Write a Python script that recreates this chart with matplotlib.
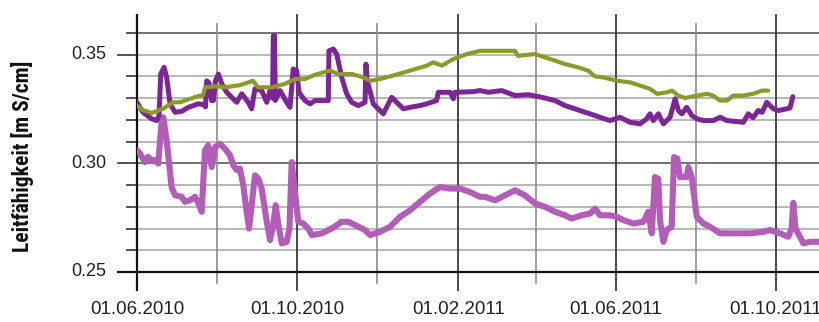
import matplotlib
matplotlib.use("Agg")
import matplotlib.pyplot as plt
import matplotlib.dates as mdates
from matplotlib import font_manager
import pandas as pd
import numpy as np

# ---- data: days since 01.06.2010 and conductivity [mS/cm] ----
start = "2010-06-01"

olive_days = [0.0, 4.6, 11.4, 19.8, 27.4, 32.8, 40.4, 48.0, 50.3, 51.8, 61.0, 67.1, 78.5, 88.4,
              92.2, 102.9, 112.8, 120.4, 128.0, 135.7, 147.1, 153.2, 163.9, 173.8, 177.6, 185.2,
              195.1, 208.1, 221.0, 225.6, 232.5, 240.9, 251.5, 261.4, 288.1, 290.4, 303.4, 311.0,
              318.6, 326.2, 336.1, 343.8, 349.1, 355.2, 365.9, 375.8, 383.4, 391.0, 396.3, 404.0,
              407.8, 412.4, 417.7, 426.8, 434.5, 439.0, 444.4, 449.7, 454.3, 461.9, 469.5, 476.4,
              481.0]
olive_vals = [0.3266, 0.3245, 0.3232, 0.3251, 0.3281, 0.3281, 0.3297, 0.3312, 0.3312, 0.3350,
              0.3355, 0.3350, 0.3360, 0.3380, 0.3350, 0.3350, 0.3366, 0.3388, 0.3388, 0.3408,
              0.3427, 0.3411, 0.3411, 0.3393, 0.3380, 0.3388, 0.3404, 0.3427, 0.3450, 0.3465,
              0.3450, 0.3480, 0.3503, 0.3518, 0.3518, 0.3495, 0.3503, 0.3488, 0.3473, 0.3457,
              0.3442, 0.3427, 0.3400, 0.3396, 0.3380, 0.3373, 0.3358, 0.3343, 0.3320, 0.3327,
              0.3335, 0.3312, 0.3301, 0.3312, 0.3320, 0.3312, 0.3289, 0.3289, 0.3312, 0.3312,
              0.3320, 0.3335, 0.3335]

dark_days = [0.0, 4.6, 11.2, 15.0, 16.8, 18.1, 20.6, 22.6, 25.2, 29.0, 34.3, 39.1, 46.7, 51.1,
             52.2, 53.1, 54.9, 56.8, 58.2, 59.8, 62.0, 64.6, 68.4, 76.0, 79.8, 84.8, 87.4, 89.9,
             92.5, 95.0, 98.9, 101.4, 103.3, 103.9, 104.8, 105.4, 109.0, 114.1, 116.6, 119.1,
             121.7, 123.5, 128.0, 131.9, 135.7, 145.8, 146.3, 149.6, 152.2, 156.0, 159.8, 163.6,
             168.7, 173.8, 174.5, 175.5, 180.1, 187.7, 194.1, 197.9, 203.0, 208.1, 215.7, 220.8,
             228.4, 229.6, 238.6, 241.1, 242.4, 256.3, 261.4, 267.8, 278.0, 288.1, 298.2, 308.5,
             318.6, 326.2, 333.8, 341.5, 345.3, 352.9, 360.5, 368.1, 375.8, 383.4, 388.5, 391.0,
             393.5, 397.4, 401.2, 406.3, 410.1, 412.7, 415.3, 419.0, 422.9, 426.7, 431.7, 439.1,
             444.4, 449.7, 462.1, 465.9, 469.5, 473.5, 476.4, 480.0, 485.0, 488.8, 495.2, 497.7,
             499.8]
dark_vals = [0.3280, 0.3235, 0.3205, 0.3197, 0.3220, 0.3411, 0.3442, 0.3396, 0.3274, 0.3235,
             0.3240, 0.3258, 0.3274, 0.3270, 0.3260, 0.3380, 0.3370, 0.3289, 0.3289, 0.3380,
             0.3411, 0.3366, 0.3327, 0.3281, 0.3320, 0.3281, 0.3251, 0.3343, 0.3340, 0.3335,
             0.3281, 0.3335, 0.3300, 0.3587, 0.3590, 0.3290, 0.3335, 0.3281, 0.3258, 0.3434,
             0.3427, 0.3327, 0.3289, 0.3274, 0.3289, 0.3289, 0.3518, 0.3526, 0.3503, 0.3396,
             0.3320, 0.3281, 0.3266, 0.3281, 0.3457, 0.3380, 0.3274, 0.3228, 0.3304, 0.3281,
             0.3251, 0.3258, 0.3266, 0.3274, 0.3289, 0.3327, 0.3327, 0.3297, 0.3327, 0.3330,
             0.3335, 0.3327, 0.3335, 0.3312, 0.3316, 0.3304, 0.3289, 0.3266, 0.3251, 0.3235,
             0.3228, 0.3212, 0.3197, 0.3212, 0.3189, 0.3182, 0.3205, 0.3228, 0.3197, 0.3228,
             0.3182, 0.3212, 0.3297, 0.3243, 0.3228, 0.3258, 0.3220, 0.3205, 0.3197, 0.3197,
             0.3212, 0.3197, 0.3189, 0.3228, 0.3210, 0.3243, 0.3235, 0.3281, 0.3251, 0.3243,
             0.3251, 0.3255, 0.3307]

light_days = [0.0, 2.3, 6.1, 8.4, 11.4, 13.7, 16.2, 18.8, 20.0, 22.6, 26.4, 29.0, 34.1, 36.6,
              40.4, 44.2, 46.5, 49.3, 51.8, 54.3, 56.9, 59.5, 63.3, 67.1, 70.9, 73.4, 76.0, 78.5,
              81.0, 83.6, 85.4, 87.4, 89.9, 92.5, 95.0, 98.9, 101.4, 103.9, 105.7, 107.7, 110.3,
              114.1, 116.2, 117.9, 120.4, 122.9, 126.8, 130.6, 133.2, 140.8, 148.4, 156.0, 161.1,
              166.2, 173.8, 177.6, 185.2, 192.8, 200.5, 208.1, 215.7, 223.3, 230.9, 238.6, 246.2,
              253.8, 261.4, 265.2, 272.9, 280.5, 288.1, 295.7, 303.4, 311.0, 318.6, 326.2, 331.3,
              338.9, 345.3, 349.1, 352.9, 360.5, 365.6, 370.6, 378.3, 385.9, 389.7, 392.3, 394.8,
              397.3, 398.6, 401.2, 403.7, 407.5, 409.3, 411.8, 413.9, 419.0, 420.2, 422.8, 426.6,
              431.7, 436.8, 444.4, 454.6, 467.3, 477.4, 482.5, 490.1, 496.4, 498.9, 500.2, 501.9,
              507.9, 513.0, 519.8]
light_vals = [0.3060, 0.3045, 0.3006, 0.3030, 0.3010, 0.3015, 0.2999, 0.3197, 0.3212, 0.3106,
              0.2891, 0.2853, 0.2846, 0.2823, 0.2830, 0.2846, 0.2820, 0.2777, 0.3060, 0.3083,
              0.2983, 0.3075, 0.3090, 0.3067, 0.3037, 0.2991, 0.2970, 0.2976, 0.2899, 0.2777,
              0.2700, 0.2807, 0.2945, 0.2930, 0.2884, 0.2731, 0.2647, 0.2720, 0.2807, 0.2720,
              0.2632, 0.2639, 0.2700, 0.3006, 0.2868, 0.2731, 0.2723, 0.2700, 0.2670, 0.2678,
              0.2700, 0.2731, 0.2731, 0.2716, 0.2693, 0.2670, 0.2685, 0.2708, 0.2754, 0.2784,
              0.2823, 0.2861, 0.2891, 0.2884, 0.2884, 0.2868, 0.2846, 0.2846, 0.2830, 0.2853,
              0.2876, 0.2853, 0.2815, 0.2800, 0.2777, 0.2761, 0.2746, 0.2761, 0.2769, 0.2792,
              0.2761, 0.2761, 0.2754, 0.2739, 0.2723, 0.2731, 0.2777, 0.2678, 0.2937, 0.2929,
              0.2739, 0.2639, 0.2693, 0.2708, 0.3029, 0.3022, 0.2937, 0.2937, 0.2983, 0.2937,
              0.2754, 0.2723, 0.2708, 0.2678, 0.2678, 0.2678, 0.2685, 0.2693, 0.2678, 0.2662,
              0.2700, 0.2818, 0.2700, 0.2632, 0.2639, 0.2639]

major_dates = ["2010-06-01", "2010-10-01", "2011-02-01", "2011-06-01", "2011-10-01"]
major_labels = ["01.06.2010", "01.10.2010", "01.02.2011", "01.06.2011", "01.10.2011"]
minor_dates = ["2010-08-01", "2010-12-01", "2011-04-01", "2011-08-01"]
y_major = [0.25, 0.30, 0.35]
y_major_labels = ["0.25", "0.30", "0.35"]
y_minor = [0.26, 0.27, 0.28, 0.29, 0.31, 0.32, 0.33, 0.34, 0.36]
ylabel = "Leitfähigkeit [m S/cm]"

# ---- figure ----
W, H = 819, 322
fig = plt.figure(figsize=(W / 100, H / 100), dpi=100)
ax_l, ax_r, ax_t, ax_b = 137, 819, 33, 272
ax = fig.add_axes([ax_l / W, 1 - ax_b / H, (ax_r - ax_l) / W, (ax_b - ax_t) / H])
axw, axh = ax_r - ax_l, ax_b - ax_t

t0 = pd.Timestamp(start)
def to_dates(days):
    return t0 + pd.to_timedelta(np.asarray(days), unit="D")

ax.set_xlim(t0, t0 + pd.Timedelta(days=519.8))
ax.set_ylim(0.25, 0.36)
for s in ax.spines.values():
    s.set_visible(False)
ax.set_xticks([])
ax.set_yticks([])

trans_xdata = ax.get_xaxis_transform()  # x data, y axes
trans_ydata = ax.get_yaxis_transform()  # x axes, y data

# horizontal grid lines
for yv in y_minor + y_major:
    if yv == 0.25:
        ax.plot([-19 / axw, 1], [yv, yv], transform=trans_ydata, color="#111111", lw=1.6,
                clip_on=False, zorder=3)
        continue
    is_major = yv in y_major
    inner = "#5a5a5a" if yv in (0.30, 0.36) else "#ababab"
    ax.plot([0, 1], [yv, yv], transform=trans_ydata, color=inner, lw=1.2, clip_on=False, zorder=1)
    x0 = -19 / axw if is_major else -10 / axw
    ax.plot([x0, 0], [yv, yv], transform=trans_ydata, color="#444444", lw=1.3,
            clip_on=False, zorder=1)

# vertical lines
for d in minor_dates:
    dt = mdates.date2num(pd.Timestamp(d))
    ax.plot([dt, dt], [(272 - 283) / axh, (272 - 24) / axh], transform=trans_xdata,
            color="#8c8c8c", lw=1.2, clip_on=False, zorder=1)
for i, d in enumerate(major_dates):
    dt = mdates.date2num(pd.Timestamp(d))
    col = "#111111" if i == 0 else "#3a3a3a"
    lw = 1.6 if i == 0 else 1.3
    ax.plot([dt, dt], [(272 - 290) / axh, (272 - 15) / axh], transform=trans_xdata,
            color=col, lw=lw, clip_on=False, zorder=3 if i == 0 else 1)
    ax.text(dt, (272 - 309) / axh, major_labels[i], transform=trans_xdata, ha="center",
            va="center", fontsize=13.5, family="Liberation Sans", color="#222222")

for yv, lab in zip(y_major, y_major_labels):
    ax.text(-31 / axw, yv, lab, transform=trans_ydata, ha="right", va="center",
            fontsize=13, family="Liberation Sans", color="#222222")

# series
ax.plot(to_dates(light_days), light_vals, color="#b35db8", lw=4.4, solid_joinstyle="round",
        solid_capstyle="round", zorder=4)
ax.plot(to_dates(dark_days), dark_vals, color="#7e2595", lw=3.6, solid_joinstyle="round",
        solid_capstyle="round", zorder=5)
ax.plot(to_dates(olive_days), olive_vals, color="#8c9a2c", lw=3.0, solid_joinstyle="round",
        solid_capstyle="round", zorder=6)

# y label with a condensed bold font if available
fam = None
for cand in ["Liberation Sans Narrow", "Roboto Condensed", "Open Sans Condensed"]:
    try:
        font_manager.findfont(font_manager.FontProperties(family=cand, weight="bold"),
                              fallback_to_default=False)
        fam = cand
        break
    except Exception:
        pass
if fam is None:
    fig.text(23 / W, 1 - 156.5 / H, ylabel, rotation=90, ha="center", va="center",
             fontsize=14, fontweight="bold", family="DejaVu Sans", fontstretch="condensed",
             color="#111111")
else:
    fig.text(23 / W, 1 - 156.5 / H, ylabel, rotation=90, ha="center", va="center",
             fontsize=15.5, fontweight="bold", family=fam, color="#111111")

fig.savefig("out.png", dpi=100)
